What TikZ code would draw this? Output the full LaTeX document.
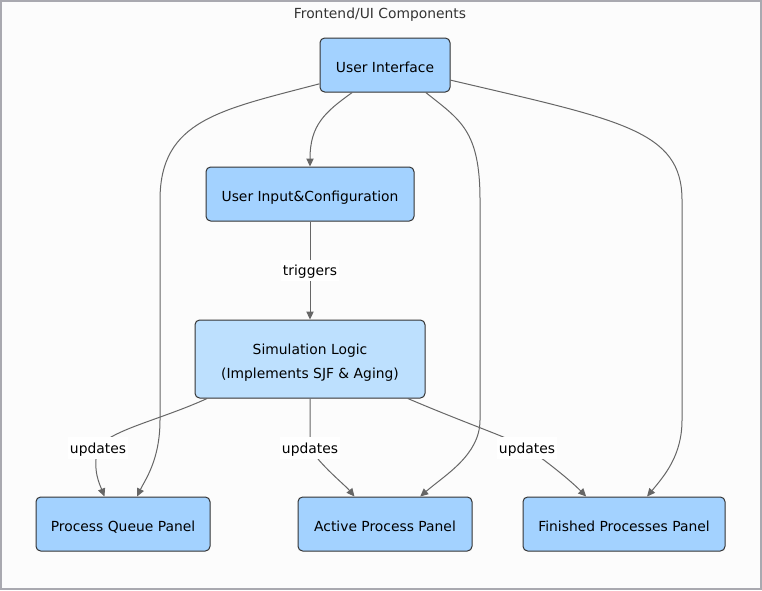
\documentclass[tikz,border=0pt]{standalone}
\usepackage{fontspec}
\setmainfont{DejaVu Sans}
\usetikzlibrary{arrows.meta}
\definecolor{boxblue}{HTML}{A3D2FF}
\definecolor{simblue}{HTML}{BDE0FE}
\definecolor{linkgray}{HTML}{666666}
\definecolor{framegray}{HTML}{A9A9B0}
\begin{document}
\begin{tikzpicture}[x=0.75pt,y=-0.75pt,
    box/.style={draw=black!80, fill=boxblue, rounded corners=3.5pt, line width=0.75pt,
      font=\fontsize{10.4}{18}\selectfont, align=center, minimum height=40.5pt,
      text height=11.2pt, text depth=0pt},
    link/.style={draw=linkgray, line width=0.75pt, -{Triangle[length=6pt,width=5.5pt]}},
    lbl/.style={fill=white, font=\fontsize{10.4}{12}\selectfont, inner sep=1.5pt,
      text height=10.6pt, text depth=2.4pt}]
  \useasboundingbox (0,0) rectangle (762,590);
  \draw [framegray, fill={rgb,255:red,252;green,252;blue,252}, line width=1.5pt] (1,1) rectangle (761,589);
  \node [text=black!80] (title) at (380,15) {\fontsize{10.4}{12}\selectfont Frontend/UI Components};

  % nodes
  \node [box, minimum width=97.5pt] (ui) at (385,65) {User Interface};
  \node [box, minimum width=156pt] (cfg) at (310,194) {User Input\&Configuration};
  \node [box, fill=simblue, minimum width=172.5pt, minimum height=58.5pt,
    text height=, text depth=] (sim) at (310,359)
    {\rule{0pt}{14pt}Simulation Logic\\(Implements SJF \& Aging)};
  \node [box, minimum width=130.5pt] (pq) at (123,524) {Process Queue Panel};
  \node [box, minimum width=130.5pt] (ap) at (385,524) {Active Process Panel};
  \node [box, minimum width=151.5pt] (fp) at (624,524) {Finished Processes Panel};

  % from the user interface
  \draw [link] (ui.196) .. controls (220,110) and (160,120) .. (160,200)
    -- (160,420) .. controls (160,460) and (145,480) .. (pq.63);
  \draw [link] (ui.220) .. controls (325,112) and (310,125) .. (cfg.north);
  \draw [link] (ui.326) .. controls (460,120) and (480,130) .. (480,200)
    -- (480,420) .. controls (480,455) and (445,475) .. (ap.38);
  \draw [link] (ui.347) .. controls (620,120) and (682,130) .. (682,200)
    -- (682,420) .. controls (682,455) and (665,475) .. (fp.50);

  % from the configuration and the logic
  \draw [link] (cfg.south) -- (sim.north) node [lbl, midway] {triggers};
  \draw [link] (sim.201) .. controls (160,420) and (110,430) .. (98,448) node [lbl] {updates}
    .. controls (92,470) and (100,485) .. (pq.124);
  \draw [link] (sim.south) .. controls (310,420) and (310,440) .. (310,448) node [lbl] {updates}
    .. controls (320,465) and (345,485) .. (ap.138);
  \draw [link] (sim.338) .. controls (470,425) and (510,438) .. (527,448) node [lbl] {updates}
    .. controls (545,460) and (570,480) .. (fp.144);
\end{tikzpicture}
\end{document}
